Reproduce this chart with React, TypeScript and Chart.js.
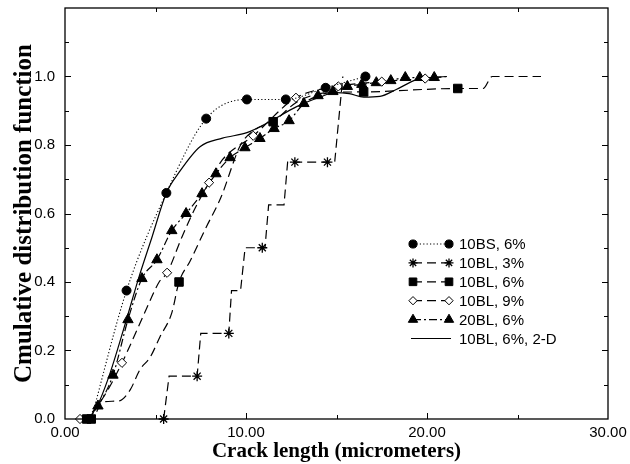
import React, { useEffect, useRef } from 'react';
import { Chart, registerables } from 'chart.js';
import { drawPoint } from 'chart.js/helpers';

Chart.register(...registerables);

// ---- data (x = crack length in micrometers, y = CDF) ----
const bs6X = [1.45, 3.4, 5.6, 7.8, 10.05, 12.2, 14.4, 16.6];
const bs6Y = [0, 0.375, 0.66, 0.877, 0.933, 0.933, 0.967, 1.0];
const bs6Mark = [0, 1, 1, 1, 1, 1, 1, 1];

const bl3X = [5.45, 5.75, 7.3, 7.5, 9.05, 9.2, 9.7, 9.95, 10.9, 11.05, 11.25, 12.1, 12.3, 12.7, 14.5, 14.9, 15.35];
const bl3Y = [0, 0.125, 0.125, 0.25, 0.25, 0.375, 0.375, 0.5, 0.5, 0.5, 0.625, 0.625, 0.75, 0.75, 0.75, 0.75, 1.0];
const bl3Mark = [1, 0, 1, 0, 1, 0, 0, 0, 1, 0, 0, 0, 0, 1, 1, 0, 0];

const bl6X = [1.2, 1.45, 2.1, 3.0, 3.6, 4.15, 4.7, 5.25, 5.9, 6.3, 6.9, 7.8, 8.6, 9.7, 10.5, 11.5, 12.8, 14.5, 16.5, 21.7, 23.1, 23.6, 26.3];
const bl6Y = [0, 0, 0.05, 0.053, 0.085, 0.145, 0.18, 0.24, 0.31, 0.4, 0.46, 0.56, 0.645, 0.8, 0.845, 0.868, 0.925, 0.953, 0.955, 0.965, 0.965, 1.0, 1.0];
const bl6Mark = [1, 1, 0, 0, 0, 0, 0, 0, 0, 1, 0, 0, 0, 0, 0, 1, 0, 0, 1, 1, 0, 0, 0];

const bl9X = [0.83, 1.5, 2.2, 3.15, 4.4, 5.2, 5.64, 6.45, 7.2, 7.96, 8.7, 10.4, 12.76, 15.1, 17.5, 19.9, 20.5];
const bl9Y = [0, 0.02, 0.07, 0.164, 0.31, 0.4, 0.427, 0.53, 0.617, 0.69, 0.757, 0.827, 0.938, 0.971, 0.985, 0.994, 0.997];
const bl9Mark = [1, 0, 0, 1, 0, 0, 1, 0, 0, 1, 0, 1, 1, 1, 1, 1, 0];

const bl20X = [1.3, 1.82, 2.65, 3.48, 4.25, 5.08, 5.9, 6.69, 7.57, 8.34, 9.12, 9.94, 10.77, 11.55, 12.38, 13.2, 13.98, 14.8, 15.6, 16.4, 17.2, 18.0, 18.8, 19.6, 20.4, 21.1];
const bl20Y = [0, 0.038, 0.128, 0.29, 0.41, 0.465, 0.55, 0.6, 0.658, 0.716, 0.763, 0.792, 0.819, 0.848, 0.871, 0.921, 0.944, 0.956, 0.971, 0.977, 0.982, 0.988, 0.997, 0.997, 0.997, 1.0];
const bl20Mark = [0, 1, 1, 1, 1, 1, 1, 1, 1, 1, 1, 1, 1, 1, 1, 1, 1, 1, 1, 1, 1, 1, 1, 1, 1, 0];

const d2X = [1.3, 1.8, 2.4, 3.0, 3.45, 4.06, 4.8, 5.6, 6.3, 7.46, 8.7, 10.05, 11.3, 12.8, 14.1, 14.9, 15.7, 16.5, 17.4, 18.3, 19.4, 21.1];
const d2Y = [0, 0.04, 0.12, 0.22, 0.3, 0.41, 0.53, 0.66, 0.72, 0.795, 0.82, 0.836, 0.868, 0.912, 0.94, 0.953, 0.95, 0.94, 0.942, 0.962, 0.99, 1.0];

const legendLabels = ['10BS, 6%', '10BL, 3%', '10BL, 6%', '10BL, 9%', '20BL, 6%', '10BL, 6%, 2-D'];
const xTickValues = [0, 10, 20, 30];
const yTickValues = [0, 0.2, 0.4, 0.6, 0.8, 1.0];

const SANS = '"Liberation Sans", Arial, Helvetica, sans-serif';
const SERIF = '"Liberation Serif", "Times New Roman", serif';

function pts(xs: number[], ys: number[]) {
  return xs.map((x, i) => ({ x, y: ys[i] }));
}

type Style = {
  pointStyle: any;
  radius: number;
  fill: string;
  dash: number[];
  markerBorder: number;
  tension: number;
};

const styles: Style[] = [
  { pointStyle: 'circle', radius: 4.5, fill: '#000', dash: [1.2, 2.2], markerBorder: 1, tension: 1 },
  { pointStyle: 'star', radius: 5, fill: '#000', dash: [9, 5], markerBorder: 1.3, tension: 0 },
  { pointStyle: 'rect', radius: 6, fill: '#000', dash: [9, 5], markerBorder: 1, tension: 1 },
  { pointStyle: 'rectRot', radius: 4.6, fill: '#fff', dash: [9, 5], markerBorder: 1, tension: 1 },
  { pointStyle: 'triangle', radius: 6, fill: '#000', dash: [8, 3, 2, 3], markerBorder: 1, tension: 1 },
  { pointStyle: false, radius: 0, fill: '#000', dash: [], markerBorder: 1, tension: 1 },
];

function makeDataset(i: number, xs: number[], ys: number[], marks: number[] | null) {
  const s = styles[i];
  return {
    label: legendLabels[i],
    data: pts(xs, ys),
    borderColor: '#000',
    borderWidth: i === 0 ? 1.1 : 1.2,
    borderDash: s.dash,
    backgroundColor: s.fill,
    pointStyle: s.pointStyle,
    pointRadius: marks ? marks.map((m) => (m ? s.radius : 0)) : 0,
    pointBackgroundColor: s.fill,
    pointBorderColor: '#000',
    pointBorderWidth: s.markerBorder,
    cubicInterpolationMode: s.tension ? 'monotone' : 'default',
    tension: 0,
    fill: false,
    clip: false as any,
  };
}

const framePlugin = {
  id: 'frameAndTicks',
  afterDraw(chart: any) {
    const { ctx, chartArea: a, scales } = chart;
    const xs = scales.x;
    const ys = scales.y;
    ctx.save();
    ctx.setLineDash([]);
    ctx.strokeStyle = '#000';
    ctx.lineWidth = 1.3;
    ctx.strokeRect(a.left, a.top, a.right - a.left, a.bottom - a.top);
    ctx.lineWidth = 1;
    ctx.beginPath();
    for (let v = 5; v < 30; v += 5) {
      const px = Math.round(xs.getPixelForValue(v)) + 0.5;
      const len = v % 10 === 0 ? 6 : 4;
      ctx.moveTo(px, a.bottom);
      ctx.lineTo(px, a.bottom - len);
      ctx.moveTo(px, a.top);
      ctx.lineTo(px, a.top + len);
    }
    for (let k = 1; k < 12; k++) {
      const py = Math.round(ys.getPixelForValue(k / 10)) + 0.5;
      const len = k % 2 === 0 ? 6 : 4;
      ctx.moveTo(a.left, py);
      ctx.lineTo(a.left + len, py);
      ctx.moveTo(a.right, py);
      ctx.lineTo(a.right - len, py);
    }
    ctx.stroke();

    // legend
    const x0 = a.left + 348;
    const x1 = a.left + 384;
    const tx = a.left + 394;
    const y0 = a.top + 236;
    const dy = 18.9;
    ctx.font = '15px ' + SANS;
    ctx.textBaseline = 'middle';
    ctx.textAlign = 'left';
    chart.data.datasets.forEach((d: any, i: number) => {
      const s = styles[i];
      const y = y0 + i * dy;
      ctx.strokeStyle = '#000';
      ctx.lineWidth = d.borderWidth;
      ctx.setLineDash(s.dash);
      ctx.beginPath();
      if (s.pointStyle) {
        ctx.moveTo(x0, y);
        ctx.lineTo(x1, y);
      } else {
        ctx.moveTo(x0 - 2, y);
        ctx.lineTo(x1 + 2, y);
      }
      ctx.stroke();
      ctx.setLineDash([]);
      if (s.pointStyle) {
        ctx.fillStyle = s.fill;
        ctx.strokeStyle = '#000';
        ctx.lineWidth = s.markerBorder;
        const r = s.radius * 0.9;
        drawPoint(ctx, { pointStyle: s.pointStyle, radius: r, borderWidth: s.markerBorder, rotation: 0 } as any, x0, y);
        drawPoint(ctx, { pointStyle: s.pointStyle, radius: r, borderWidth: s.markerBorder, rotation: 0 } as any, x1, y);
      }
      ctx.fillStyle = '#000';
      ctx.fillText(legendLabels[i], tx, y + 1);
    });
    ctx.restore();
  },
};

export default function App() {
  const ref = useRef<HTMLCanvasElement>(null);
  useEffect(() => {
    if (!ref.current) return;
    const chart = new Chart(ref.current, {
      type: 'line',
      data: {
        datasets: [
          makeDataset(0, bs6X, bs6Y, bs6Mark),
          makeDataset(1, bl3X, bl3Y, bl3Mark),
          makeDataset(2, bl6X, bl6Y, bl6Mark),
          makeDataset(3, bl9X, bl9Y, bl9Mark),
          makeDataset(4, bl20X, bl20Y, bl20Mark),
          makeDataset(5, d2X, d2Y, null),
        ] as any,
      },
      options: {
        responsive: false,
        animation: false,
        events: [],
        layout: { padding: { left: 0, top: 8, right: 22, bottom: 0 } },
        plugins: { legend: { display: false }, tooltip: { enabled: false } },
        scales: {
          x: {
            type: 'linear',
            min: 0,
            max: 30,
            grid: { display: false, drawTicks: false },
            border: { display: false },
            ticks: {
              stepSize: 10,
              autoSkip: false,
              maxRotation: 0,
              padding: 5,
              color: '#000',
              font: { family: SANS, size: 15 },
              callback: (v: any) => (xTickValues.includes(Number(v)) ? Number(v).toFixed(2) : ''),
            },
            title: {
              display: true,
              text: 'Crack length (micrometers)',
              color: '#000',
              font: { family: SERIF, size: 21, weight: 'bold' },
              padding: { top: 0, bottom: 0 },
            },
            afterFit: (s: any) => {
              s.height = 45;
              s.paddingLeft = 0;
              s.paddingRight = 0;
            },
          },
          y: {
            type: 'linear',
            min: 0,
            max: 1.2,
            grid: { display: false, drawTicks: false },
            border: { display: false },
            ticks: {
              stepSize: 0.2,
              autoSkip: false,
              padding: 10,
              color: '#000',
              font: { family: SANS, size: 15 },
              callback: (v: any) => {
                const n = Math.round(Number(v) * 10) / 10;
                return yTickValues.some((t) => Math.abs(t - n) < 1e-6) ? n.toFixed(1) : '';
              },
            },
            title: {
              display: true,
              text: 'Cmulative distribution function',
              color: '#000',
              font: { family: SERIF, size: 25, weight: 'bold' },
              padding: { top: 10, bottom: 0 },
            },
            afterFit: (s: any) => {
              s.width = 65;
              s.paddingTop = 0;
              s.paddingBottom = 0;
            },
          },
        },
      } as any,
      plugins: [framePlugin],
    });
    return () => chart.destroy();
  }, []);
  return (
    <div style={{ position: 'absolute', left: 0, top: 0, width: 630, height: 464, background: '#fff' }}>
      <canvas ref={ref} width={630} height={464} style={{ display: 'block' }} />
    </div>
  );
}
